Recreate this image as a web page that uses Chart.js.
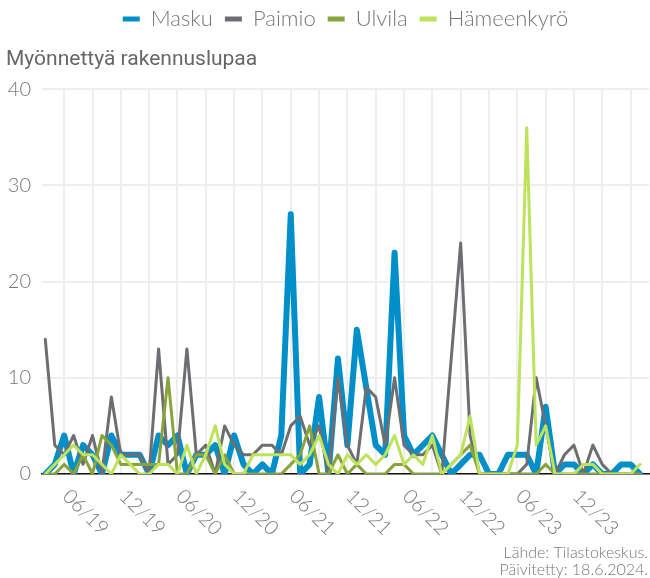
<!DOCTYPE html>
<html>
<head>
<meta charset="utf-8">
<script src="https://cdn.jsdelivr.net/npm/chart.js@4.4.1/dist/chart.umd.min.js"></script>
<style>
  html, body { margin: 0; padding: 0; background: #fff; }
  #wrap { width: 650px; height: 578px; position: relative; }
</style>
</head>
<body>
<div id="wrap"><canvas id="permitChart"></canvas></div>
<script>
// Myönnetyt rakennusluvat kuukausittain
const months = [
    "04/19", "05/19", "06/19", "07/19", "08/19", "09/19", "10/19", "11/19", "12/19",
    "01/20", "02/20", "03/20", "04/20", "05/20", "06/20", "07/20", "08/20", "09/20", "10/20", "11/20", "12/20",
    "01/21", "02/21", "03/21", "04/21", "05/21", "06/21", "07/21", "08/21", "09/21", "10/21", "11/21", "12/21",
    "01/22", "02/22", "03/22", "04/22", "05/22", "06/22", "07/22", "08/22", "09/22", "10/22", "11/22", "12/22",
    "01/23", "02/23", "03/23", "04/23", "05/23", "06/23", "07/23", "08/23", "09/23", "10/23", "11/23", "12/23",
    "01/24", "02/24", "03/24", "04/24", "05/24", "06/24", "07/24"
];
const tickLabels = ["06/19", "12/19", "06/20", "12/20", "06/21", "12/21", "06/22", "12/22", "06/23", "12/23"];

const masku = [0, 1, 4, 0, 3, 2, 0, 4, 2, 2, 2, 0, 4, 3, 4, 0, 2, 2, 3, 0, 4, 1, 0, 1, 0, 4, 27, 0, 1, 8, 0, 12,
    3, 15, 9, 3, 2, 23, 4, 2, 3, 4, 2, 0, 1, 2, 2, 0, 0, 2, 2, 2, 0, 7, 0, 1, 1, 0, 1, 0, 0, 1, 1, 0];
const paimio = [14, 3, 2, 4, 1, 4, 0, 8, 2, 2, 2, 0, 13, 1, 2, 13, 2, 3, 0, 5, 3, 2, 2, 3, 3, 2, 5, 6, 3, 5, 0, 10,
    3, 1, 9, 8, 3, 10, 3, 2, 2, 3, 0, 12, 24, 4, 0, 0, 0, 0, 0, 1, 10, 5, 0, 2, 3, 0, 3, 1, 0, 0, 0, 0];
const ulvila = [0, 0, 1, 0, 2, 0, 4, 3, 1, 1, 1, 1, 1, 10, 0, 0, 2, 2, 0, 2, 0, 0, 0, 0, 0, 0, 1, 2, 5, 0, 0, 2,
    0, 1, 0, 0, 0, 1, 1, 0, 0, 0, 0, 1, 2, 3, 0, 0, 0, 0, 0, 0, 0, 1, 0, 0, 0, 0, 0, 0, 0, 0, 0, 0];
const hameenkyro = [0, 1, 2, 3, 2, 2, 1, 0, 2, 1, 0, 0, 1, 1, 0, 3, 0, 2, 5, 1, 0, 0, 2, 2, 2, 2, 2, 1, 2, 4, 1, 0,
    2, 1, 2, 1, 2, 4, 1, 2, 1, 4, 0, 1, 2, 6, 0, 0, 0, 0, 3, 36, 3, 5, 0, 0, 0, 1, 1, 0, 0, 0, 0, 1];

const sourceLines = ["Lähde: Tilastokeskus.", "Päivitetty: 18.6.2024."];

const toPoints = values => values.map((v, i) => ({ x: i, y: v }));

// x-akselin kiertyneet tekstit ja lähdeteksti
const extraText = {
    id: "extraText",
    afterDraw(chart) {
        const ctx = chart.ctx;
        const xScale = chart.scales.x;
        const base = chart.chartArea.bottom;
        ctx.save();
        ctx.fillStyle = "#777";
        ctx.font = "300 20px Lato";
        ctx.textAlign = "left";
        ctx.textBaseline = "middle";
        tickLabels.forEach(label => {
            const x = xScale.getPixelForValue(months.indexOf(label));
            ctx.save();
            ctx.translate(x + 2, base + 19);
            ctx.rotate(Math.PI / 4);
            ctx.fillText(label, 0, 0);
            ctx.restore();
        });
        ctx.font = "300 16px Lato";
        ctx.textAlign = "right";
        ctx.textBaseline = "alphabetic";
        ctx.fillText(sourceLines[0], chart.width - 2, 558);
        ctx.fillText(sourceLines[1], chart.width - 2, 575);
        ctx.restore();
    }
};

const ctx = document.getElementById("permitChart").getContext("2d");

const data = {
    datasets: [
        { label: "Masku", data: toPoints(masku), borderColor: "#008fc8", backgroundColor: "#008fc8", borderWidth: 6, order: 4 },
        { label: "Paimio", data: toPoints(paimio), borderColor: "#6d6e71", backgroundColor: "#6d6e71", borderWidth: 3, order: 3 },
        { label: "Ulvila", data: toPoints(ulvila), borderColor: "#88a33b", backgroundColor: "#88a33b", borderWidth: 3, order: 2 },
        { label: "Hämeenkyrö", data: toPoints(hameenkyro), borderColor: "#bde25c", backgroundColor: "#bde25c", borderWidth: 3, order: 1 }
    ]
};

const options = {
    responsive: true,
    maintainAspectRatio: false,
    animation: false,
    layout: { padding: { left: 6, right: 1, top: -4, bottom: 104 } },
    elements: {
        point: { radius: 0 },
        line: { tension: 0, borderJoinStyle: "round", borderCapStyle: "round", fill: false }
    },
    scales: {
        x: {
            type: "linear",
            min: -0.35,
            max: 63.95,
            afterBuildTicks: scale => {
                scale.ticks = months.map((m, i) => i).filter(i => i % 3 === 2).map(i => ({ value: i }));
            },
            ticks: { display: false },
            grid: { color: "#eeeeee", lineWidth: 2, drawTicks: false },
            border: { color: "#111", width: 1.5 }
        },
        y: {
            min: 0,
            max: 40,
            afterFit: scale => { scale.width = 36; },
            ticks: {
                stepSize: 10,
                color: "#777",
                padding: 11,
                font: { family: "Lato", size: 20, weight: 300 }
            },
            grid: { color: "#eeeeee", lineWidth: 2, drawTicks: false },
            border: { display: false }
        }
    },
    plugins: {
        legend: {
            position: "top",
            align: "center",
            fullSize: false,
            labels: {
                boxWidth: 17,
                boxHeight: 5,
                padding: 12,
                color: "#777",
                font: { family: "Lato", size: 22, weight: 300 },
                sort: (a, b) => a.datasetIndex - b.datasetIndex,
                generateLabels(chart) {
                    const items = Chart.defaults.plugins.legend.labels.generateLabels(chart);
                    items.forEach(it => {
                        it.fillStyle = it.strokeStyle;
                        it.lineWidth = 0;
                    });
                    return items;
                }
            }
        },
        title: {
            display: true,
            text: "Myönnettyä rakennuslupaa",
            align: "start",
            weight: 500,
            color: "#666",
            font: { family: "Roboto", size: 21, weight: "normal" },
            padding: { top: 7, bottom: 17 }
        },
        tooltip: { enabled: false }
    }
};

new Chart(ctx, {
    type: "line",
    data: data,
    options: options,
    plugins: [extraText]
});
</script>
</body>
</html>
